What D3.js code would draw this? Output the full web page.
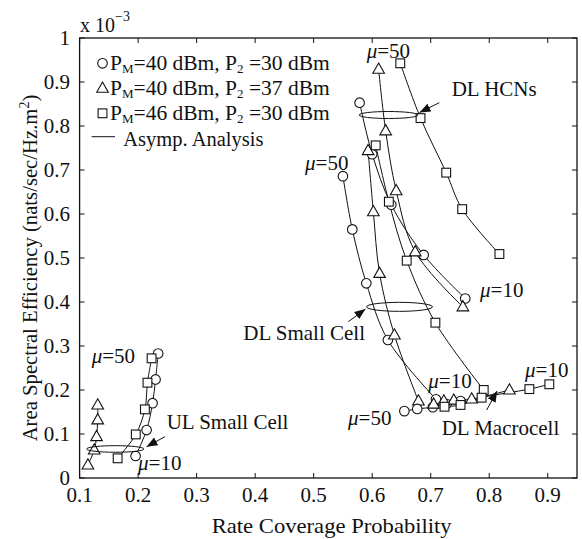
<!DOCTYPE html>
<html><head><meta charset="utf-8">
<script src="https://d3js.org/d3.v7.min.js"></script>
<style>
body{margin:0;background:#fff;}
text{font-family:"Liberation Serif","Times New Roman",serif;fill:#111;}
</style></head>
<body><svg id="c" width="582" height="539"></svg>
<script>
// ---- data (x: rate coverage probability, y: ASE in 1e-3 nats/sec/Hz.m^2), mu = 50,40,30,20,10 ----
const hcnCircle   = [[0.5785,0.853],[0.600,0.736],[0.6326,0.621],[0.688,0.507],[0.759,0.408]];
const hcnTriangle = [[0.611,0.929],[0.623,0.789],[0.641,0.653],[0.6735,0.514],[0.755,0.389]];
const hcnSquare   = [[0.648,0.9425],[0.6826,0.818],[0.7265,0.694],[0.7538,0.611],[0.8174,0.509]];
const scCircle    = [[0.550,0.686],[0.566,0.565],[0.590,0.4425],[0.6268,0.3136],[0.709,0.179]];
const scTriangle  = [[0.593,0.744],[0.602,0.605],[0.6126,0.465],[0.638,0.325],[0.679,0.175]];
const scSquare    = [[0.606,0.756],[0.6285,0.628],[0.659,0.494],[0.708,0.353],[0.7906,0.200]];
const mcCircle    = [[0.655,0.152],[0.677,0.157],[0.7036,0.161],[0.727,0.168],[0.751,0.175]];
const mcTriangle  = [[0.705,0.168],[0.7224,0.175],[0.7395,0.177],[0.770,0.1795],[0.8345,0.200]];
const mcSquare    = [[0.7236,0.162],[0.751,0.166],[0.787,0.1825],[0.8686,0.202],[0.9027,0.213]];
const ulCircle    = [[0.1957,0.050],[0.2145,0.109],[0.2247,0.170],[0.2298,0.224],[0.2343,0.283]];
const ulTriangle  = [[0.1142,0.0295],[0.125,0.0636],[0.129,0.094],[0.131,0.132],[0.131,0.166]];
const ulSquare    = [[0.165,0.0447],[0.196,0.099],[0.2116,0.156],[0.216,0.2166],[0.223,0.272]];
const xTicks = [0.1,0.2,0.3,0.4,0.5,0.6,0.7,0.8,0.9];
const yTicks = [0,0.1,0.2,0.3,0.4,0.5,0.6,0.7,0.8,0.9,1];
const legendRows = [
  {shape:"circle", pm:"40", p2:"30"},
  {shape:"triangle", pm:"40", p2:"37"},
  {shape:"square", pm:"46", p2:"30"}
];

const svg = d3.select("#c");
const L=79.6, R=577, T=38, B=478;
const x = d3.scaleLinear().domain([0.1,0.95]).range([L,R]);
const y = d3.scaleLinear().domain([0,1]).range([B,T]);

const series = [
  [hcnCircle,"circle"],[hcnTriangle,"triangle"],[hcnSquare,"square"],
  [scCircle,"circle"],[scTriangle,"triangle"],[scSquare,"square"],
  [mcCircle,"circle"],[mcTriangle,"triangle"],[mcSquare,"square"],
  [ulCircle,"circle"],[ulTriangle,"triangle"],[ulSquare,"square"]
];

const line = d3.line().x(d=>x(d[0])).y(d=>y(d[1])).curve(d3.curveCatmullRom.alpha(0.5));
const g = svg.append("g");
series.forEach(([data])=>{
  g.append("path").attr("d",line(data)).attr("fill","none").attr("stroke","#111").attr("stroke-width",1);
});

function marker(sel, shape, cx, cy){
  if(shape==="circle") sel.append("circle").attr("cx",cx).attr("cy",cy).attr("r",4.8);
  else if(shape==="square") sel.append("rect").attr("x",cx-4.4).attr("y",cy-4.4).attr("width",8.8).attr("height",8.8);
  else sel.append("path").attr("d",`M${cx},${cy-6.2}L${cx+5.8},${cy+4}L${cx-5.8},${cy+4}Z`);
}
const mg = g.append("g").attr("fill","#fff").attr("stroke","#111").attr("stroke-width",1.1);
series.forEach(([data,shape])=>{
  data.forEach(d=>marker(mg,shape,x(d[0]),y(d[1])));
});

// ellipses
const eg = g.append("g").attr("fill","none").attr("stroke","#111").attr("stroke-width",1);
eg.append("ellipse").attr("cx",x(0.628)).attr("cy",y(0.825)).attr("rx",29.5).attr("ry",3.5);
eg.append("ellipse").attr("cx",x(0.6467)).attr("cy",y(0.389)).attr("rx",33).attr("ry",4.5);
eg.append("ellipse").attr("cx",x(0.161)).attr("cy",y(0.066)).attr("rx",28.7).attr("ry",3.3);

// arrows
svg.append("defs").append("marker").attr("id","ah").attr("viewBox","0 0 10 10")
  .attr("refX",10).attr("refY",5).attr("markerWidth",11).attr("markerHeight",11)
  .attr("markerUnits","userSpaceOnUse").attr("orient","auto")
  .append("path").attr("d","M0,1L10,5L0,9Z").attr("fill","#111");
const arrows = [
  [[439.3,102.7],[419.5,112.5]],
  [[348.3,321.7],[365.5,309]],
  [[486.7,410],[497,391]],
  [[165,436.7],[146.5,446.7]]
];
arrows.forEach(([a,b])=>{
  svg.append("line").attr("x1",a[0]).attr("y1",a[1]).attr("x2",b[0]).attr("y2",b[1])
    .attr("stroke","#111").attr("stroke-width",1).attr("marker-end","url(#ah)");
});

// text annotations
const fs = 21;
function ann(txt, px, py, anchor){
  svg.append("text").attr("x",px).attr("y",py).attr("font-size",fs).attr("text-anchor",anchor||"start").text(txt);
}
function mu(val, px, py){
  const t = svg.append("text").attr("x",px).attr("y",py).attr("font-size",fs);
  t.append("tspan").attr("font-style","italic").text("\u03bc");
  t.append("tspan").text("="+val);
}
ann("DL HCNs",451.7,96);
ann("DL Small Cell",365,340,"end");
ann("DL Macrocell",441.7,435);
ann("UL Small Cell",166.7,429);
mu("50",366.7,58);
mu("50",305,170);
mu("10",480,297);
mu("10",428.3,388);
mu("10",525,377);
mu("50",348,425);
mu("50",91.7,363);
mu("10",138,470);

// frame + ticks
const ax = svg.append("g").attr("stroke","#111").attr("stroke-width",1);
ax.append("rect").attr("x",L).attr("y",T).attr("width",R-L).attr("height",B-T).attr("fill","none").attr("stroke-width",1.3);
xTicks.forEach(v=>{
  ax.append("line").attr("x1",x(v)).attr("x2",x(v)).attr("y1",B).attr("y2",B-5);
  ax.append("line").attr("x1",x(v)).attr("x2",x(v)).attr("y1",T).attr("y2",T+5);
});
yTicks.forEach(v=>{
  ax.append("line").attr("x1",L).attr("x2",L+5).attr("y1",y(v)).attr("y2",y(v));
  ax.append("line").attr("x1",R).attr("x2",R-5).attr("y1",y(v)).attr("y2",y(v));
});
xTicks.forEach(v=>{
  svg.append("text").attr("x",x(v)).attr("y",502).attr("font-size",fs).attr("text-anchor","middle").text(d3.format(".1f")(v));
});
yTicks.forEach(v=>{
  svg.append("text").attr("x",70).attr("y",y(v)+7).attr("font-size",fs).attr("text-anchor","end").text(v===0?"0":(v===1?"1":d3.format(".1f")(v)));
});
// exponent
const ex = svg.append("text").attr("x",80).attr("y",31.5).attr("font-size",20);
ex.append("tspan").text("x 10");
ex.append("tspan").attr("dy",-11).attr("font-size",14).text("\u22123");

// axis titles
svg.append("text").attr("x",331.7).attr("y",533).attr("font-size",21).attr("text-anchor","middle")
  .attr("textLength",240).attr("lengthAdjust","spacingAndGlyphs").text("Rate Coverage Probability");
const yt = svg.append("text").attr("transform",`translate(37,268) rotate(-90)`).attr("font-size",20.7).attr("text-anchor","middle");
yt.append("tspan").text("Area Spectral Efficiency (nats/sec/Hz.m");
yt.append("tspan").attr("dy",-8).attr("font-size",14).text("2");
yt.append("tspan").attr("dy",8).text(")");

// legend
const lg = svg.append("g");
const rowY = [63.3, 88.3, 113.3];
legendRows.forEach((r,i)=>{
  const m = lg.append("g").attr("fill","#fff").attr("stroke","#111").attr("stroke-width",1.1);
  marker(m, r.shape, 102.5, rowY[i]);
  const t = lg.append("text").attr("x",110).attr("y",rowY[i]+7).attr("font-size",21.5);
  t.append("tspan").text("P");
  t.append("tspan").attr("dy",3).attr("font-size",13).text("M");
  t.append("tspan").attr("dy",-3).text("=" + r.pm + " dBm, P");
  t.append("tspan").attr("dy",3).attr("font-size",13).text("2");
  t.append("tspan").attr("dy",-3).text(" =" + r.p2 + " dBm");
});
lg.append("line").attr("x1",91.7).attr("x2",115).attr("y1",136.7).attr("y2",136.7).attr("stroke","#111").attr("stroke-width",1);
lg.append("text").attr("x",123.3).attr("y",146).attr("font-size",20.5).text("Asymp. Analysis");
</script></body></html>
